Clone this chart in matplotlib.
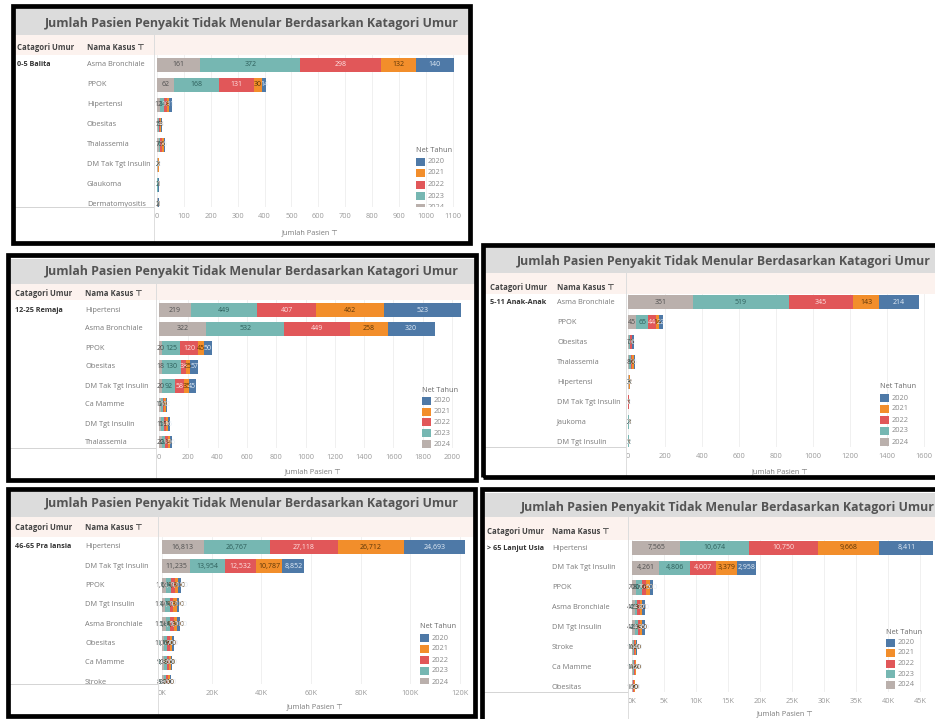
import numpy as np
import matplotlib
matplotlib.use('Agg')
from matplotlib import pyplot as plt
from matplotlib.patches import Rectangle
from matplotlib.lines import Line2D

plt.rcParams['font.family'] = ['Open Sans', 'DejaVu Sans']

W, H = 935, 719
JUDUL = 'Jumlah Pasien Penyakit Tidak Menular Berdasarkan Katagori Umur'

tahun = ['2020', '2021', '2022', '2023', '2024']
warna = ['#4e79a7', '#f28e2b', '#e15759', '#76b7b2', '#bab0ac']
warna_teks = ['#e3ecf6', '#5b3608', '#fde3e3', '#2d5e5a', '#4f4f4f']

# 0-5 Balita
balita_kasus = ['Asma Bronchiale', 'PPOK', 'Hipertensi', 'Obesitas', 'Thalassemia',
                'DM Tak Tgt Insulin', 'Glaukoma', 'Dermatomyositis']
balita_2020 = [140, 14, 11, 4, 6, 2, 1, 1]
balita_2021 = [132, 30, 8, 3, 5, 1, 1, 1]
balita_2022 = [298, 131, 10, 4, 7, 1, 1, 1]
balita_2023 = [372, 168, 14, 4, 6, 2, 2, 1]
balita_2024 = [161, 62, 12, 5, 7, 2, 1, 2]
balita_ticks = [0, 100, 200, 300, 400, 500, 600, 700, 800, 900, 1000, 1100]

# 12-25 Remaja
remaja_kasus = ['Hipertensi', 'Asma Bronchiale', 'PPOK', 'Obesitas', 'DM Tak Tgt Insulin',
                'Ca Mamme', 'DM Tgt Insulin', 'Thalassemia']
remaja_2020 = [523, 320, 50, 57, 45, 12, 16, 16]
remaja_2021 = [462, 258, 45, 25, 35, 9, 12, 14]
remaja_2022 = [407, 449, 120, 38, 58, 10, 14, 18]
remaja_2023 = [449, 532, 125, 130, 92, 14, 18, 22]
remaja_2024 = [219, 322, 20, 18, 20, 12, 15, 20]
remaja_ticks = [0, 200, 400, 600, 800, 1000, 1200, 1400, 1600, 1800, 2000]

# 5-11 Anak-Anak
anak_kasus = ['Asma Bronchiale', 'PPOK', 'Obesitas', 'Thalassemia', 'Hipertensi',
              'DM Tak Tgt Insulin', 'Jaukoma', 'DM Tgt Insulin']
anak_2020 = [214, 22, 6, 6, 2, 2, 2, 2]
anak_2021 = [143, 14, 5, 6, 2, 1, 1, 1]
anak_2022 = [345, 44, 6, 7, 2, 1, 1, 1]
anak_2023 = [519, 65, 6, 9, 3, 1, 2, 2]
anak_2024 = [351, 45, 7, 8, 3, 1, 2, 1]
anak_ticks = [0, 200, 400, 600, 800, 1000, 1200, 1400, 1600]

# 46-65 Pra lansia
pralansia_kasus = ['Hipertensi', 'DM Tak Tgt Insulin', 'PPOK', 'DM Tgt Insulin',
                   'Asma Bronchiale', 'Obesitas', 'Ca Mamme', 'Stroke']
pralansia_2020 = [24693, 8852, 1150, 1100, 1100, 700, 650, 600]
pralansia_2021 = [26712, 10787, 1300, 1300, 1300, 900, 800, 700]
pralansia_2022 = [27118, 12532, 1500, 1500, 1500, 1000, 850, 800]
pralansia_2023 = [26767, 13954, 1900, 1700, 1800, 1100, 1000, 900]
pralansia_2024 = [16813, 11235, 1650, 1400, 1500, 1000, 900, 800]
pralansia_ticks = [0, 20000, 40000, 60000, 80000, 100000, 120000]

# > 65 Lanjut Usia
lansia_kasus = ['Hipertensi', 'DM Tak Tgt Insulin', 'PPOK', 'Asma Bronchiale',
                'DM Tgt Insulin', 'Stroke', 'Ca Mamme', 'Obesitas']
lansia_2020 = [8411, 2958, 500, 370, 360, 140, 120, 100]
lansia_2021 = [9668, 3379, 600, 380, 360, 150, 130, 90]
lansia_2022 = [10750, 4007, 700, 400, 400, 170, 150, 100]
lansia_2023 = [10674, 4806, 800, 450, 460, 180, 160, 110]
lansia_2024 = [7565, 4261, 700, 400, 420, 160, 140, 100]
lansia_ticks = [0, 5000, 10000, 15000, 20000, 25000, 30000, 35000, 40000, 45000]


def garis(fig, xs, ys, **kw):
    fig.add_artist(Line2D([x / W for x in xs], [1 - y / H for y in ys],
                          transform=fig.transFigure, **kw))


def kotak(fig, x0, y0, x1, y1, **kw):
    fig.add_artist(Rectangle((x0 / W, 1 - y1 / H), (x1 - x0) / W, (y1 - y0) / H,
                             transform=fig.transFigure, **kw))


def tulis(fig, x, y, s, **kw):
    fig.text(x / W, 1 - y / H, s, va='center', **kw)


def panel(fig, lay, umur, kasus, per_tahun, ticks, tick_fmt, label_fmt):
    bx0, by0, bx1, by1 = lay['box']
    band0, band1 = lay['band']
    head = lay['head']

    # title band and header row
    kotak(fig, bx0, band0, bx1, band1, color='#dcdcdc', lw=0)
    kotak(fig, bx0, band1, bx1, head, color='#fcf2ee', lw=0)
    tulis(fig, lay['title_x'], lay['title_y'], JUDUL, fontsize=8.9,
          fontweight='bold', color='#545454')
    tulis(fig, lay['cat_x'], lay['head_y'], 'Catagori Umur', fontsize=5.6,
          fontweight='bold', color='#444444')
    tulis(fig, lay['name_x'], lay['head_y'], 'Nama Kasus \u22a4', fontsize=5.6,
          fontweight='bold', color='#444444')

    axl, axr, axis = bx0 + 3, lay['right'], lay['axis']
    ax = fig.add_axes([axl / W, 1 - axis / H, (axr - axl) / W, (axis - head) / H])
    zero, scale = lay['zero'], lay['scale']
    ax.set_xlim((axl - zero) / scale, (axr - zero) / scale)
    first, step = lay['first'], lay['step']
    ax.set_ylim((axis - first) / step, (head - first) / step)
    for s in ax.spines.values():
        s.set_visible(False)

    def fx(p):
        return (p - axl) / (axr - axl)

    def fy(p):
        return (axis - p) / (axis - head)

    # stacked from the newest year on the left to 2020 on the right,
    # every segment carries its value label
    y = np.arange(len(kasus))
    kiri = np.zeros(len(kasus))
    for i in reversed(range(len(tahun))):
        v = np.array(per_tahun[i], float)
        ax.barh(y, v, left=kiri, height=0.74, color=warna[i], lw=0, zorder=2)
        for yi in y:
            ax.text(kiri[yi] + v[yi] / 2, yi, label_fmt(v[yi]), ha='center',
                    va='center', fontsize=5, color=warna_teks[i], clip_on=True,
                    zorder=3)
        kiri += v

    tr = ax.get_yaxis_transform()
    ax.text(fx(lay['cat_x']), 0, umur, transform=tr, ha='left', va='center',
            fontsize=5.2, fontweight='bold', color='#333333', clip_on=True)
    for yi, nama in zip(y, kasus):
        ax.text(fx(lay['name_x']), yi, nama, transform=tr, ha='left', va='center',
                fontsize=5.3, color='#7a7a7a', clip_on=True)

    ax.set_yticks([])
    ax.set_xticks(ticks)
    ax.set_xticklabels([tick_fmt(t) for t in ticks])
    ax.tick_params(axis='x', length=0, pad=4.5, labelsize=5.3, labelcolor='#9a9a9a')
    ax.grid(axis='x', color='#eeeeee', lw=0.6, zorder=0)
    ax.set_axisbelow(True)

    # legend, clipped by the pane like the rest of the view
    lx, ly = lay['leg']
    ax.text(fx(lx), fy(ly), 'Net Tahun', transform=ax.transAxes, fontsize=5.3,
            color='#6a6a6a', va='center', ha='left', clip_on=True)
    for i, th in enumerate(tahun):
        yy = ly + lay['leg_step'] * (i + 1)
        ax.add_patch(Rectangle((fx(lx), fy(yy + 4)), 9 / (axr - axl), 8 / (axis - head),
                               transform=ax.transAxes, color=warna[i], lw=0, zorder=4))
        ax.text(fx(lx + 12), fy(yy), th, transform=ax.transAxes, fontsize=5.3,
                color='#8a8a8a', va='center', ha='left', clip_on=True, zorder=4)

    # pane dividers
    left = lay['left']
    garis(fig, [bx0, left], [axis, axis], color='#d4d4d4', lw=0.7)
    garis(fig, [left, left], [band1, by1], color='#dddddd', lw=0.7)

    xl, yl = lay['xlabel']
    tulis(fig, xl, yl, 'Jumlah Pasien \u22a4', fontsize=5.3, color='#7a7a7a', ha='center')

    kotak(fig, bx0, by0, bx1, by1, fill=False, ec='black', lw=3.4, zorder=10)


def biasa(v):
    return f'{int(round(v))}'


def ribuan(v):
    return f'{int(round(v)):,}'


def ribu_k(t):
    return f'{int(t / 1000)}K'


def main():
    fig = plt.figure(figsize=(W / 100, H / 100), dpi=100)
    fig.patch.set_facecolor('white')

    lay_balita = dict(box=(13, 6, 470, 243), band=(9, 35), head=55, head_y=48,
                      title_x=45, title_y=23, cat_x=17, name_x=87, left=154,
                      zero=157, scale=0.269, right=466, axis=207, first=65, step=20,
                      leg=(416, 150), leg_step=11.5, xlabel=(310, 233))
    lay_remaja = dict(box=(8, 255, 476, 480), band=(259, 284), head=300, head_y=293,
                      title_x=45, title_y=272, cat_x=15, name_x=85, left=156,
                      zero=159, scale=0.1465, right=470, axis=448, first=310, step=19,
                      leg=(422, 390), leg_step=10.8, xlabel=(313, 472))
    lay_anak = dict(box=(483, 245, 940, 477), band=(248, 273), head=294, head_y=287,
                    title_x=517, title_y=262, cat_x=490, name_x=557, left=626,
                    zero=628, scale=0.185, right=935, axis=447, first=302, step=20,
                    leg=(880, 387), leg_step=11, xlabel=(780, 472))
    lay_pralansia = dict(box=(8, 489, 475, 716), band=(492, 517), head=537, head_y=528,
                         title_x=45, title_y=503, cat_x=15, name_x=85, left=158,
                         zero=162, scale=0.002483, right=470, axis=684, first=547,
                         step=19.3, leg=(420, 627), leg_step=11, xlabel=(315, 707))
    lay_lansia = dict(box=(482, 489, 940, 724), band=(493, 517), head=540, head_y=532,
                      title_x=521, title_y=507, cat_x=487, name_x=552, left=628,
                      zero=632, scale=0.0064, right=935, axis=692, first=548,
                      step=19.9, leg=(886, 632), leg_step=10.5, xlabel=(785, 714))

    panel(fig, lay_balita, '0-5 Balita', balita_kasus,
          [balita_2020, balita_2021, balita_2022, balita_2023, balita_2024],
          balita_ticks, biasa, biasa)
    panel(fig, lay_remaja, '12-25 Remaja', remaja_kasus,
          [remaja_2020, remaja_2021, remaja_2022, remaja_2023, remaja_2024],
          remaja_ticks, biasa, biasa)
    panel(fig, lay_anak, '5-11 Anak-Anak', anak_kasus,
          [anak_2020, anak_2021, anak_2022, anak_2023, anak_2024],
          anak_ticks, biasa, biasa)
    panel(fig, lay_pralansia, '46-65 Pra lansia', pralansia_kasus,
          [pralansia_2020, pralansia_2021, pralansia_2022, pralansia_2023, pralansia_2024],
          pralansia_ticks, ribu_k, ribuan)
    panel(fig, lay_lansia, '> 65 Lanjut Usia', lansia_kasus,
          [lansia_2020, lansia_2021, lansia_2022, lansia_2023, lansia_2024],
          lansia_ticks, ribu_k, ribuan)

    fig.savefig('out.png', dpi=100)


if __name__ == '__main__':
    main()
